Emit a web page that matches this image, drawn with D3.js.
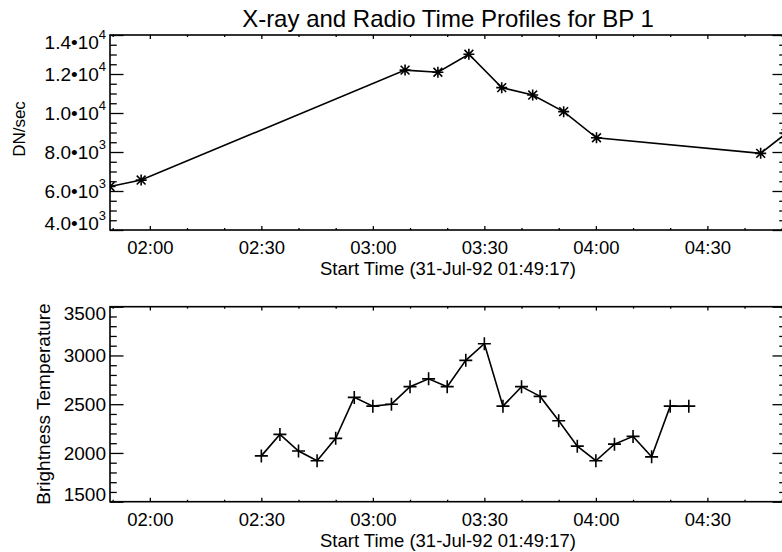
<!DOCTYPE html>
<html>
<head>
<meta charset="utf-8">
<script src="https://cdn.jsdelivr.net/npm/d3@7"></script>
<style>
body { margin: 0; background: #fff; }
svg { display: block; font-family: 'Liberation Sans', Arial, Helvetica, sans-serif; }
</style>
</head>
<body>
<div id="chart"></div>
<script>
var title = 'X-ray and Radio Time Profiles for BP 1'
var xLabel = 'Start Time (31-Jul-92 01:49:17)'
var startTime = '01:49:17'
var endTime = '04:51:09'
var xTickLabels = ['02:00', '02:30', '03:00', '03:30', '04:00', '04:30']

// top panel - soft x-ray counts (asterisks)
var xrayTimes = ['01:49:17', '01:57:40', '03:08:40', '03:17:30', '03:25:50', '03:34:40',
  '03:43:00', '03:51:20', '04:00:10', '04:44:20', '04:51:09']
var xrayValues = [6230, 6560, 12200, 12090, 13010, 11300, 10920, 10070, 8730, 7930, 8950]
var xrayTicks = [4000, 6000, 8000, 10000, 12000, 14000]
var xrayTickMant = ['4.0', '6.0', '8.0', '1.0', '1.2', '1.4']
var xrayTickExp = ['3', '3', '3', '4', '4', '4']

// bottom panel - radio brightness temperature (plus signs)
var radioTimes = ['02:30:00', '02:35:00', '02:40:00', '02:45:00', '02:50:00', '02:55:00',
  '03:00:00', '03:05:00', '03:10:00', '03:15:00', '03:20:00', '03:25:00',
  '03:30:00', '03:35:00', '03:40:00', '03:45:00', '03:50:00', '03:55:00',
  '04:00:00', '04:05:00', '04:10:00', '04:15:00', '04:20:00', '04:25:00']
var radioValues = [1970, 2190, 2020, 1920, 2150, 2570, 2480, 2500, 2680, 2760, 2680, 2950,
  3120, 2480, 2680, 2580, 2330, 2070, 1920, 2090, 2170, 1960, 2480, 2480]
var radioTicks = [1500, 2000, 2500, 3000, 3500]

var W = 782, H = 552
var L = 110, R = 786
var parseT = d3.utcParse('%H:%M:%S')
var parseHM = d3.utcParse('%H:%M')

var svg = d3.select('#chart').append('svg')
  .attr('width', W)
  .attr('height', H)
svg.append('rect').attr('width', W).attr('height', H).attr('fill', '#fff')

var x = d3.scaleUtc()
  .domain([parseT(startTime), parseT(endTime)])
  .range([L, R])
var xMajor = xTickLabels.map(function(s) { return parseHM(s) })
var xMinor = x.ticks(d3.utcMinute.every(10)).filter(function(t) { return t.getUTCMinutes() % 30 !== 0 })

svg.append('text')
  .attr('x', 448)
  .attr('y', 27)
  .attr('text-anchor', 'middle')
  .attr('font-size', 24)
  .text(title)

function panel(top, bottom, y, yTicks, yMinorStep, id) {
  var g = svg.append('g')
  var h = bottom - top
  var xlen = h * 0.02, ylen = (R - L) * 0.02

  // x axes, ticks pointing inward
  g.append('g').attr('transform', 'translate(0,' + bottom + ')')
    .call(d3.axisBottom(x).tickValues(xMinor).tickSizeInner(-xlen / 2).tickSizeOuter(0).tickFormat(''))
  g.append('g').attr('transform', 'translate(0,' + top + ')')
    .call(d3.axisTop(x).tickValues(xMinor).tickSizeInner(-xlen / 2).tickSizeOuter(0).tickFormat(''))
  g.append('g').attr('transform', 'translate(0,' + top + ')')
    .call(d3.axisTop(x).tickValues(xMajor).tickSizeInner(-xlen).tickSizeOuter(0).tickFormat(''))
  var xb = g.append('g').attr('transform', 'translate(0,' + bottom + ')')
    .call(d3.axisBottom(x).tickValues(xMajor).tickSizeInner(-xlen).tickSizeOuter(0)
      .tickFormat(function(d, i) { return xTickLabels[i] }))
  xb.selectAll('text').attr('y', 24).attr('dy', null).attr('font-size', 18.5)

  g.append('text')
    .attr('x', 448)
    .attr('y', bottom + 45)
    .attr('text-anchor', 'middle')
    .attr('font-size', 18.5)
    .text(xLabel)

  // y axes
  var yMinor = d3.range(y.domain()[0], y.domain()[1], yMinorStep).filter(function(v) { return yTicks.indexOf(v) < 0 })
  g.append('g').attr('transform', 'translate(' + L + ',0)')
    .call(d3.axisLeft(y).tickValues(yMinor).tickSizeInner(-ylen / 2).tickSizeOuter(0).tickFormat(''))
  g.append('g').attr('transform', 'translate(' + R + ',0)')
    .call(d3.axisRight(y).tickValues(yMinor).tickSizeInner(-ylen / 2).tickSizeOuter(0).tickFormat(''))
  g.append('g').attr('transform', 'translate(' + R + ',0)')
    .call(d3.axisRight(y).tickValues(yTicks).tickSizeInner(-ylen).tickSizeOuter(0).tickFormat(''))
  var yl = g.append('g').attr('transform', 'translate(' + L + ',0)')
    .call(d3.axisLeft(y).tickValues(yTicks).tickSizeInner(-ylen).tickSizeOuter(0).tickPadding(4)
      .tickFormat(d3.format('d')))
  yl.selectAll('text').attr('font-size', 19)
    .attr('y', function(d) {
      var p = y(d)
      var c = Math.max(top + 7, Math.min(bottom - 7, p))
      return c - p
    })

  g.selectAll('.domain').remove()
  g.selectAll('.tick line').attr('stroke', '#000').attr('stroke-width', 1.3)

  g.append('rect')
    .attr('x', L).attr('y', top)
    .attr('width', R - L).attr('height', h)
    .attr('fill', 'none')
    .attr('stroke', '#000')
    .attr('stroke-width', 1.6)

  g.append('clipPath').attr('id', id)
    .append('rect').attr('x', L).attr('y', top).attr('width', R - L).attr('height', h)
  return { g: g, yl: yl }
}

// top panel
var y1 = d3.scaleLinear().domain([4000, 14000]).range([230, 35])
var p1 = panel(35, 230, y1, xrayTicks, 500, 'clip1')
p1.yl.selectAll('text').each(function(d, i) {
  var t = d3.select(this).text('')
  t.append('tspan').text(xrayTickMant[i] + '\u2022' + '10')
  t.append('tspan').attr('font-size', 13).attr('dy', '-0.75em').text(xrayTickExp[i])
})
var xrayData = xrayTimes.map(function(t, i) { return { t: parseT(t), v: xrayValues[i] } })
var c1 = p1.g.append('g').attr('clip-path', 'url(#clip1)')
c1.append('path')
  .datum(xrayData)
  .attr('fill', 'none')
  .attr('stroke', '#000')
  .attr('stroke-width', 1.6)
  .attr('d', d3.line().x(function(d) { return x(d.t) }).y(function(d) { return y1(d.v) }))
var ra = 5.5
c1.selectAll('.ast')
  .data(xrayData)
  .enter()
  .append('path')
  .attr('class', 'ast')
  .attr('transform', function(d) { return 'translate(' + x(d.t) + ',' + y1(d.v) + ')' })
  .attr('d', 'M' + -ra + ',0H' + ra + 'M0,' + -ra + 'V' + ra +
    'M' + -ra * 0.8 + ',' + -ra * 0.8 + 'L' + ra * 0.8 + ',' + ra * 0.8 +
    'M' + -ra * 0.8 + ',' + ra * 0.8 + 'L' + ra * 0.8 + ',' + -ra * 0.8)
  .attr('stroke', '#000')
  .attr('stroke-width', 1.6)

svg.append('text')
  .attr('transform', 'translate(25,129) rotate(-90)')
  .attr('text-anchor', 'middle')
  .attr('font-size', 17)
  .text('DN/sec')

// bottom panel
var y2 = d3.scaleLinear().domain([1500, 3500]).range([501.7, 306.7])
var p2 = panel(306.7, 501.7, y2, radioTicks, 100, 'clip2')
var radioData = radioTimes.map(function(t, i) { return { t: parseT(t), v: radioValues[i] } })
var c2 = p2.g.append('g').attr('clip-path', 'url(#clip2)')
c2.append('path')
  .datum(radioData)
  .attr('fill', 'none')
  .attr('stroke', '#000')
  .attr('stroke-width', 1.6)
  .attr('d', d3.line().x(function(d) { return x(d.t) }).y(function(d) { return y2(d.v) }))
var rp = 6.5
c2.selectAll('.plus')
  .data(radioData)
  .enter()
  .append('path')
  .attr('class', 'plus')
  .attr('transform', function(d) { return 'translate(' + x(d.t) + ',' + y2(d.v) + ')' })
  .attr('d', 'M' + -rp + ',0H' + rp + 'M0,' + -rp + 'V' + rp)
  .attr('stroke', '#000')
  .attr('stroke-width', 1.6)

svg.append('text')
  .attr('transform', 'translate(50,404) rotate(-90)')
  .attr('text-anchor', 'middle')
  .attr('font-size', 19)
  .text('Brightness Temperature')
</script>
</body>
</html>
